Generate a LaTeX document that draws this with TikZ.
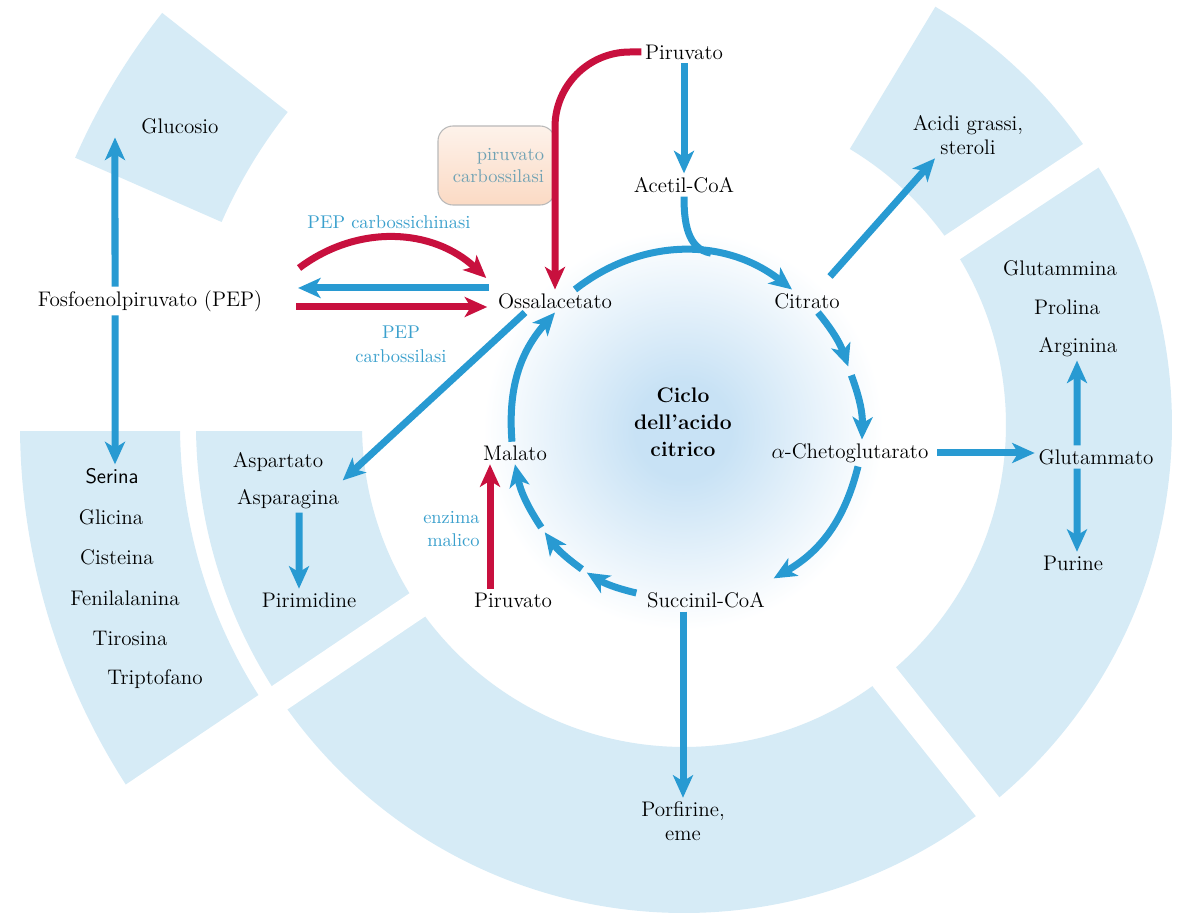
\documentclass[tikz,border=0pt]{standalone}
\usetikzlibrary{calc,arrows.meta}
\definecolor{flowblue}{RGB}{40,154,210}
\definecolor{flowred}{RGB}{200,16,62}
\definecolor{ringblue}{RGB}{214,235,246}
\definecolor{labelblue}{RGB}{58,160,205}
\definecolor{boxtext}{RGB}{112,162,180}
\definecolor{glow}{RGB}{200,226,245}
\definecolor{peach}{RGB}{251,218,196}
\pgfdeclareradialshading{glowshade}{\pgfpoint{0bp}{0bp}}{color(0bp)=(glow); color(3bp)=(glow); color(12.5bp)=(white); color(50bp)=(white)}
\tikzset{
  txt/.style={font=\fontsize{12}{13.5}\selectfont, inner sep=2pt, align=center},
  lbl/.style={font=\fontsize{10.5}{13.5}\selectfont, text=labelblue, inner sep=2pt, align=center},
  enzymebox/.style={draw=gray!55, line width=0.6pt, rounded corners=3mm, top color=peach!35, bottom color=peach,
    text=boxtext, font=\fontsize{10.5}{12.5}\selectfont, align=right, text width=19mm,
    minimum width=23.4mm, minimum height=15.8mm, inner xsep=2mm},
  flow/.style={flowblue, line width=1.4mm, -{Stealth[length=4.5mm,width=4mm,inset=1.2mm]}},
  redflow/.style={flow, flowred},
  sector/.style={fill=ringblue},
  gap/.style={draw=white},
}
\begin{document}
\begin{tikzpicture}[x=0.2mm, y=-0.2mm]
\useasboundingbox (0,0) rectangle (1180,915);
\coordinate (ring) at (684,425);
\coordinate (cyc) at (683,430);
% glow in the middle of the cycle
\shade[shading=glowshade] (cyc) circle[radius=400];
% background sectors
\foreach \a/\b/\ri/\ro in {-59/-33.5/322/488, -33.5/51.5/322/488, 51.5/146/322/488,
    146/180/322/488, 146/180/504/664, -156.3/-141.7/505/665}
  \fill[sector] ($(ring)+(\a:\ri)$) arc[start angle=\a, end angle=\b, radius=\ri]
    -- ($(ring)+(\b:\ro)$) arc[start angle=\b, end angle=\a, radius=\ro] -- cycle;
\foreach \a/\w in {-33.5/5.6mm, 51.5/6mm, 146/5.6mm, 180/2.4mm}
  \draw[gap, line width=\w] ($(ring)+(\a:300)$) -- ($(ring)+(\a:700)$);

% cycle
\node[txt] (piruA) at (684,52) {Piruvato};
\node[txt] (acetil) at (684,185) {Acetil-CoA};
\node[txt] (ossal) at (555,301) {Ossalacetato};
\node[txt] (citrato) at (807,301) {Citrato};
\node[txt] (cheto) at (850,453) {$\alpha$-Chetoglutarato};
\node[txt] (succ) at (706,600) {Succinil-CoA};
\node[txt] (malato) at (515,453) {Malato};
\node[txt] (piruB) at (513,600) {Piruvato};
\node[txt, font=\fontsize{12}{15.5}\selectfont\bfseries] (ciclo) at (683,422) {Ciclo\\dell’acido\\citrico};

% products
\node[txt] (pep) at (150,301) {Fosfoenolpiruvato (PEP)};
\node[txt] (gluc) at (180,126) {Glucosio};
\node[txt] (acidi) at (968,135) {Acidi grassi,\\steroli};
\node[txt] (glna) at (1060,268) {Glutammina};
\node[txt] (prol) at (1067,307) {Prolina};
\node[txt] (argi) at (1078,347) {Arginina};
\node[txt] (glu) at (1096,457) {Glutammato};
\node[txt] (pur) at (1073,563) {Purine};
\node[txt] (porf) at (683,821) {Porfirine,\\eme};
\node[txt, font=\sffamily\fontsize{12}{13.5}\selectfont] (ser) at (112,476) {Serina};
\node[txt] (gli) at (111,517) {Glicina};
\node[txt] (cis) at (117,557) {Cisteina};
\node[txt] (fen) at (125,598) {Fenilalanina};
\node[txt] (tir) at (130,638) {Tirosina};
\node[txt] (trp) at (155,679) {Triptofano};
\node[txt] (asp) at (278,462) {Aspartato};
\node[txt] (asn) at (288,499) {Asparagina};
\node[txt] (pirim) at (309,600) {Pirimidine};

% enzymes
\node[lbl] (pepck) at (389,222) {PEP carbossichinasi};
\node[lbl] (pepc) at (401,344) {PEP\\carbossilasi};
\node[lbl, anchor=east, align=right] (enz) at (483.5,529) {enzima\\malico};
\node[enzymebox] (pcbox) at (496.5,165.5) {piruvato\\carbossilasi};

\coordinate (join) at ($(cyc)+(-81:179)$);
\coordinate (k1) at ($(cyc)+(-21:177)$);
\coordinate (k2) at ($(cyc)+(-18:177)$);
\coordinate (m1) at ($(cyc)+(124:172)$);
\coordinate (m2) at ($(cyc)+(126:172)$);
\coordinate (m3) at ($(cyc)+(143.5:172)$);
\coordinate (m4) at ($(cyc)+(145.5:172)$);

\draw[flow] (piruA) -- (acetil);
\draw[flowblue, line width=1.4mm] (acetil.south) to[out=-90, in=170] (join);
\draw[flow] ([xshift=4mm]ossal.north) to[bend left=38] ([xshift=-3mm]citrato.north);
\draw[flow] ([xshift=2.2mm]citrato.south) to[bend left=10] (k1);
\draw[flow] (k2) to[bend left=11] ([xshift=2.4mm]cheto.north);
\draw[flow] ([xshift=1.6mm]cheto.south) to[bend left=23] ([shift={(1mm,2mm)}]succ.north east);
\draw[flow] ([shift={(-1.4mm,1.4mm)}]succ.west) to[bend left=9] (m1);
\draw[flow] (m2) to[bend left=9] (m3);
\draw[flow] (m4) to[bend left=11] (malato.south);
\draw[flow] ([xshift=-0.6mm]malato.north) to[bend left=23] (ossal.south);

% side branches
\draw[flow] ([xshift=-7mm]pep.north) -- ([xshift=-13mm]gluc.south);
\draw[flow] ([xshift=-7mm]pep.south) -- ([xshift=0.6mm]ser.north);
\draw[flow] ([shift={(-1mm,2.6mm)}]ossal.west) -- ([shift={(6.4mm,2.6mm)}]pep.east);
\draw[redflow] ([shift={(6mm,-1.2mm)}]pep.east) -- ([shift={(-1.4mm,-1.2mm)}]ossal.west);
\draw[redflow] ([shift={(6.6mm,6.6mm)}]pep.east) to[bend left=40] ([shift={(-1.6mm,4.6mm)}]ossal.west);
\draw[redflow, rounded corners=15mm] (piruA.west) -| (ossal.north);
\draw[redflow] ([xshift=-4.6mm]piruB.north) -- ([xshift=-5mm]malato.south);
\draw[flow] ([xshift=-6mm]ossal.south) -- ([yshift=1mm]asn.north east);
\draw[flow] ([xshift=2.2mm]asn.south) -- ([xshift=-2mm]pirim.north);
\draw[flow] ([shift={(4.6mm,2.6mm)}]citrato.north) -- ([xshift=-6.6mm]acidi.south);
\draw[flow] ([xshift=1mm]cheto.east) -- (cheto.east -| glu.west);
\draw[flow] ([xshift=-3.8mm]glu.north) -- ([xshift=-0.2mm]argi.south);
\draw[flow] ([xshift=-3.8mm]glu.south) -- ([xshift=0.8mm]pur.north);
\draw[flow] (succ.south -| porf.north) -- (porf.north);
\end{tikzpicture}
\end{document}
